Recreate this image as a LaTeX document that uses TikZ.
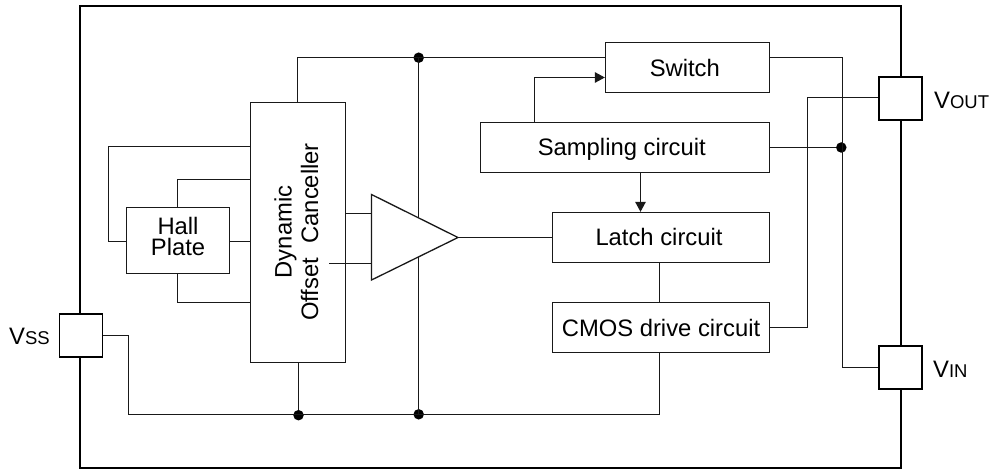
\documentclass[tikz,border=0pt]{standalone}
\usepackage{fontspec}
\setmainfont{Liberation Sans}
\usetikzlibrary{arrows.meta,shapes.geometric}
\newcommand{\txtsize}{\fontsize{23.8}{20.7}\selectfont}
\newcommand{\smcp}[1]{{\fontsize{18.5}{18.5}\selectfont #1}}
\tikzset{
  wire/.style={line width=1.2pt,black!90},
  arrowwire/.style={wire,-{Triangle[length=10pt,width=10.5pt]}},
  blockbox/.style={draw=black!90,line width=1.3pt,fill=white,inner sep=0pt,font=\txtsize,text=black},
  linebox/.style={blockbox,text height=17pt,text depth=0pt},
  padbox/.style={draw=black,line width=1.8pt,fill=white,inner sep=0pt,minimum width=43pt,minimum height=43pt},
  joint/.style={circle,fill=black,inner sep=0pt,minimum size=10.5pt},
  pinlabel/.style={font=\txtsize,inner sep=0pt,anchor=base west},
  sidetext/.style={inner sep=0pt,rotate=90,anchor=base,font=\txtsize},
}
\begin{document}
\begin{tikzpicture}[x=1pt,y=-1pt]
\useasboundingbox (0,0) rectangle (993,470);
% package outline
\node[draw=black,line width=1.8pt,inner sep=0pt,minimum width=820.5pt,minimum height=462pt] (pkg) at (490.5,237) {};
% pads
\node[padbox] (vss) at (81,335.5) {};
\node[padbox] (vout) at (900.7,98.8) {};
\node[padbox] (vin) at (900.7,367.5) {};
\node[pinlabel] (vsslabel) at (9,344) {V\smcp{SS}};
\node[pinlabel] (voutlabel) at (934,109) {V\smcp{OUT}};
\node[pinlabel] (vinlabel) at (933,377) {V\smcp{IN}};
% blocks
\node[blockbox,minimum width=95pt,minimum height=260pt] (dyn) at (298,232.5) {};
\node[sidetext] (dyntext1) at (291.7,232) {Dynamic};
\node[sidetext] (dyntext2) at (318,232) {Offset\hspace{0.6em}Canceller};
\node[blockbox,align=center,minimum width=103pt,minimum height=66pt] (hall) at (178,240.5) {Hall\\Plate\rule[-8pt]{0pt}{8pt}};
\node[linebox,text height=19pt,minimum width=164pt,minimum height=50pt] (switch) at (687.5,67.5) {Switch\hspace{5.4pt}\null};
\node[linebox,minimum width=289pt,minimum height=50pt] (sampling) at (625,147.5) {Sampling circuit\hspace{6.4pt}\null};
\node[linebox,minimum width=217pt,minimum height=50pt] (latch) at (661,237.5) {Latch circuit\hspace{4pt}\null};
\node[linebox,minimum width=217pt,minimum height=50pt] (cmos) at (661,327.5) {CMOS drive circuit};
% amplifier
\coordinate (ampa) at (371.5,194.5);
\coordinate (ampb) at (371.5,280);
\coordinate (ampc) at (458,237.5);
% joints
\node[joint] (jtop) at (418.7,57.7) {};
\node[joint] (jbotl) at (298.5,415.2) {};
\node[joint] (jbotr) at (418.7,414.3) {};
\node[joint] (jsample) at (841.3,147.5) {};
% helper coordinates
\coordinate (topy) at (297.5,57.5);
\coordinate (boty) at (128.5,414.5);
\coordinate (latchx) at (659.5,0);
\coordinate (downx) at (640.5,0);
\coordinate (swarrow) at (534.5,77.5);
\coordinate (rightx) at (842.5,57.5);
\coordinate (voutx) at (807.5,97.5);
\coordinate (fb1) at (108.5,146.5);
\coordinate (fb2) at (177.5,179.5);
\coordinate (fb3) at (177.5,302.5);
\coordinate (hally) at (0,241.5);
\coordinate (ampi1) at (0,213.5);
\coordinate (ampi2) at (329,263.5);
\coordinate (vert) at (418.5,0);
% wires behind the amplifier
\draw[wire] (vert |- jtop) -- (vert |- jbotr);
\draw[wire] (dyn.north -| topy) -- (topy) -- (topy -| switch.west);
\draw[wire] (ampc) -- (latch.west |- ampc);
\draw[wire] (vss.east) -- (vss.east -| boty) -- (boty) -- (boty -| latchx) -- (cmos.south -| latchx);
\draw[wire] (dyn.south -| jbotl) -- (jbotl);
\draw[wire] (fb1 -| dyn.west) -- (fb1) -- (fb1 |- hally) -- (hall.west |- hally);
\draw[wire] (hall.north -| fb2) -- (fb2) -- (fb2 -| dyn.west);
\draw[wire] (hall.south -| fb3) -- (fb3) -- (fb3 -| dyn.west);
\draw[wire] (hall.east |- hally) -- (dyn.west |- hally);
\draw[wire] (dyn.east |- ampi1) -- (ampa |- ampi1);
\draw[wire] (ampi2) -- (ampa |- ampi2);
% amplifier outline
\draw[wire,line width=1.3pt,fill=white,line join=miter] (ampa) -- (ampc) -- (ampb) -- cycle;
% right-hand wires
\draw[arrowwire] (sampling.north -| swarrow) -- (swarrow) -- (switch.west |- swarrow);
\draw[arrowwire] (sampling.south -| downx) -- (latch.north -| downx);
\draw[wire] (latch.south -| latchx) -- (cmos.north -| latchx);
\draw[wire] (switch.east |- rightx) -- (rightx) -- (rightx |- vin.west) -- (vin.west);
\draw[wire] (sampling.east) -- (jsample);
\draw[wire] (cmos.east) -- (cmos.east -| voutx) -- (voutx) -- (voutx -| vout.west);
\end{tikzpicture}
\end{document}
